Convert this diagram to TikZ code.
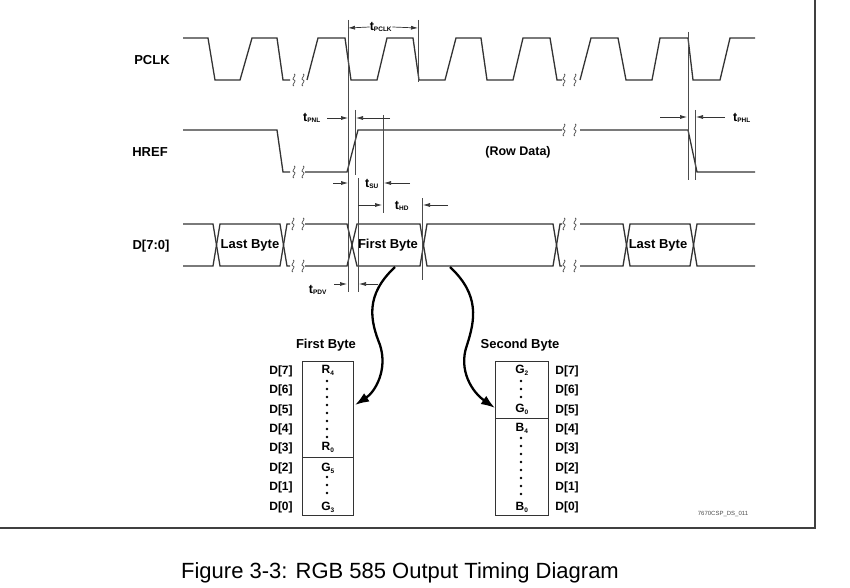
\documentclass[tikz,border=0pt]{standalone}
\usepackage{fontspec}
\setmainfont{Liberation Sans}
\usetikzlibrary{positioning}
\usetikzlibrary{calc}
\usetikzlibrary{arrows.meta}

\tikzset{
  wave/.style={line width=1.3pt, black!80},
  guide/.style={line width=0.7pt, black!70},
  dim/.style={line width=0.7pt, black!80, -{Latex[length=7pt,width=4pt]}},
  sig/.style={font=\bfseries\fontsize{13}{14}\selectfont, inner sep=1pt},
  tlbl/.style={font=\bfseries\fontsize{12.5}{13}\selectfont, inner sep=0pt},
  bit/.style={font=\bfseries\fontsize{12}{13}\selectfont, inner sep=0pt},
  maparrow/.style={line width=2.3pt, -{Latex[length=14pt,width=10pt]}},
}
\newcommand\squig[2]{\draw[guide] ({#1+1},{#2-6}) .. controls ({#1+5},{#2-6}) and ({#1-3},{#2}) .. ({#1+1},{#2}) .. controls ({#1+5},{#2}) and ({#1-3},{#2+6}) .. ({#1+1},{#2+6});}
\newcommand\tsub[1]{t\textsubscript{\fontsize{6.5}{7}\selectfont #1}}
\newcommand\bsub[1]{\textsubscript{\fontsize{6.5}{7}\selectfont #1}}

\begin{document}
\begin{tikzpicture}[x=1pt,y=-1pt]
  \useasboundingbox (0,0) rectangle (850,588);
  % frame
  \draw[line width=1.6pt, black!75] (0,528) -- (815,528) -- (815,0);

  % signal names
  \node[sig] (pclk) at (152,60) {PCLK};
  \node[sig] (href) at (150,152) {HREF};
  \node[sig] (data) at (151,246) {D[7:0]};

  % PCLK
  \draw[wave] (183,38) -- (208,38) -- (215,80) -- (240,80) -- (252,38) -- (277,38) -- (283,80) -- (290,80);
  \draw[wave] (307,80) -- (318,38) -- (345,38) -- (351,80) -- (377,80) -- (387,38) -- (413,38) -- (419,80)
    -- (445,80) -- (456,38) -- (481,38) -- (487,80) -- (513,80) -- (523,38) -- (550,38) -- (557,80) -- (562,80);
  \draw[wave] (580,80) -- (591,38) -- (618,38) -- (626,80) -- (652,80) -- (660,38) -- (688,38) -- (693,80)
    -- (720,80) -- (730,38) -- (755,38);
  \squig{293}{80} \squig{302}{80} \squig{563}{80} \squig{574}{80}

  % HREF
  \draw[wave] (183,130) -- (277,130) -- (283,172) -- (290,172);
  \draw[wave] (305,172) -- (347,172) -- (358,130) -- (562,130);
  \draw[wave] (580,130) -- (688,130) -- (697,172) -- (755,172);
  \squig{293}{172} \squig{302}{172} \squig{563}{130} \squig{574}{130}
  \node[sig, font=\bfseries\fontsize{12.5}{13}\selectfont] (row) at (518,152) {(Row Data)};

  % D[7:0]
  \draw[wave] (183,224) -- (213,224) -- (220,266) -- (280,266) -- (287,224) -- (290,224);
  \draw[wave] (183,266) -- (213,266) -- (220,224) -- (280,224) -- (287,266) -- (290,266);
  \draw[wave] (305,224) -- (347,224) -- (357,266) -- (420,266) -- (427,224) -- (553,224) -- (560,266) -- (562,266);
  \draw[wave] (305,266) -- (347,266) -- (357,224) -- (420,224) -- (427,266) -- (553,266) -- (560,224) -- (562,224);
  \draw[wave] (580,224) -- (623,224) -- (630,266) -- (690,266) -- (697,224) -- (755,224);
  \draw[wave] (580,266) -- (623,266) -- (630,224) -- (690,224) -- (697,266) -- (755,266);
  \squig{292}{224} \squig{302}{224} \squig{292}{266} \squig{302}{266}
  \squig{563}{224} \squig{574}{224} \squig{563}{266} \squig{574}{266}
  \node[sig] (last1) at (250,245) {Last Byte};
  \node[sig] (first) at (388,245) {First Byte};
  \node[sig] (last2) at (658,245) {Last Byte};

  % timing guides
  \coordinate (a1) at (348,20);  \coordinate (a2) at (348,292);
  \draw[guide] (a1) -- (a2);
  \draw[guide] (355,110) -- (355,175);
  \draw[guide] (358,178) -- (358,292);
  \draw[guide] (383,115) -- (383,213);
  \draw[guide] (418,20) -- (418,82);
  \draw[guide] (422,198) -- (422,280);
  \draw[guide] (688,32) -- (688,180);
  \draw[guide] (695,110) -- (695,180);

  % timing labels
  \node[tlbl] (tpclk) at (381,27) {\tsub{PCLK}};
  \draw[dim] (tpclk.west) -- (348,28);
  \draw[dim] (tpclk.east) -- (418,28);
  \node[tlbl] (tpnl) at (312,118) {\tsub{PNL}};
  \draw[dim] (327,118) -- (348,118);
  \draw[dim] (390,118) -- (356,118);
  \node[tlbl] (tsu) at (372,184) {\tsub{SU}};
  \draw[dim] (333,183) -- (348,183);
  \draw[dim] (410,183) -- (384,183);
  \node[tlbl] (thd) at (402,206) {\tsub{HD}};
  \draw[dim] (358,205) -- (382,205);
  \draw[dim] (448,205) -- (423,205);
  \node[tlbl] (tpdv) at (318,290) {\tsub{PDV}};
  \draw[dim] (334,284) -- (347,284);
  \draw[dim] (378,284) -- (359,284);
  \node[tlbl] (tphl) at (742,118) {\tsub{PHL}};
  \draw[dim] (660,117) -- (687,117);
  \draw[dim] (725,117) -- (696,117);

  % byte tables
  \node[sig] (fbt) at (326,345) {First Byte};
  \node[sig] (sbt) at (520,345) {Second Byte};
  \draw[wave, line width=1pt] (302,361) rectangle (353,515);
  \draw[wave, line width=1pt] (302,457) -- (353,457);
  \draw[wave, line width=1pt] (495,361) rectangle (548,515);
  \draw[wave, line width=1pt] (495,418) -- (548,418);
  \foreach \i in {0,...,7} {
    \node[bit] (fl\i) at (281,{507-\i*19.4}) {D[\i]};
    \node[bit] (sl\i) at (567,{507-\i*19.4}) {D[\i]};
  }
  \node[bit] (r4) at (328,370) {R\bsub{4}};
  \node[bit] (r0) at (328,447) {R\bsub{0}};
  \node[bit] (g5) at (328,468) {G\bsub{5}};
  \node[bit] (g3) at (328,507) {G\bsub{3}};
  \node[bit] (g2) at (522,370) {G\bsub{2}};
  \node[bit] (g0) at (522,409) {G\bsub{0}};
  \node[bit] (b4) at (522,428) {B\bsub{4}};
  \node[bit] (b0) at (522,507) {B\bsub{0}};
  \foreach \y in {381,389,397,405,413,421,429,437} \fill (327,\y) circle (1.4pt);
  \foreach \y in {477,485,493} \fill (327,\y) circle (1.4pt);
  \foreach \y in {381,389,397} \fill (521,\y) circle (1.4pt);
  \foreach \y in {438,446,454,462,470,478,486,494} \fill (521,\y) circle (1.4pt);

  % mapping arrows
  \coordinate (sa) at (395,267);
  \coordinate (sb) at (450,267);
  \draw[maparrow] (sa) .. controls (365,295) and (370,320) .. (380,345) .. controls (388,370) and (375,392) .. (355,405);
  \draw[maparrow] (sb) .. controls (480,295) and (475,320) .. (467,345) .. controls (458,370) and (472,392) .. (495,408);

  \node[font=\fontsize{6}{7}\selectfont, black!70] (ref) at (723,514) {7670CSP\_DS\_011};
  \node[font=\fontsize{22}{24}\selectfont] (cap) at (400,573) {Figure 3-3: RGB 585 Output Timing Diagram};
\end{tikzpicture}
\end{document}
